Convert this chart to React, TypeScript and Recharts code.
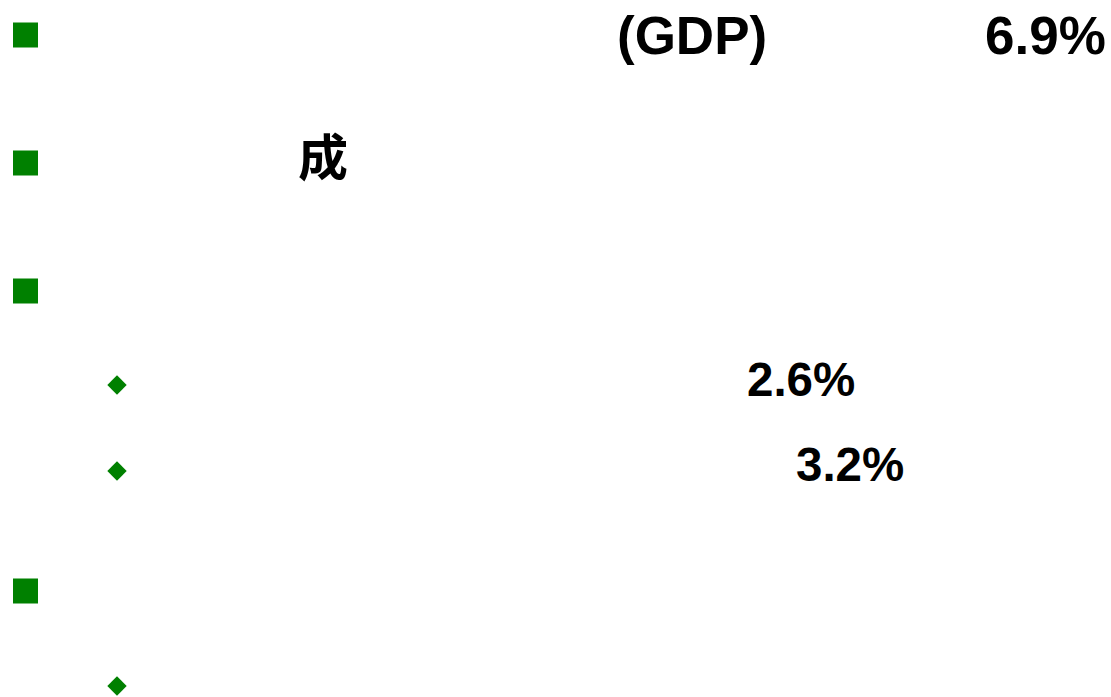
import { ScatterChart, Scatter, XAxis, YAxis } from 'recharts';

// slide is 1111 x 697, values are in slide pixels (y from top)
const levelX = [25.5, 117];
const squareBulletY = [35, 163, 291, 591];
const diamondBulletY = [385, 471, 686];

const labels = ['(GDP)', '6.9%', '成', '2.6%', '3.2%'];
const labelX = [617, 985, 298, 747, 796];
const labelY = [54, 54, 176, 396, 481];
const labelSize = [53, 53, 50, 47.5, 47.5];

const GREEN = '#008000';

const squares = squareBulletY.map((y) => ({ x: levelX[0], y }));
const diamonds = diamondBulletY.map((y) => ({ x: levelX[1], y }));
const texts = labels.map((label, i) => ({ x: labelX[i], y: labelY[i], label, size: labelSize[i] }));

const SquareBullet = (props: any) => {
    const { cx, cy } = props;
    return <rect x={cx - 12.5} y={cy - 12.5} width={25} height={25} fill={GREEN} />;
};

const DiamondBullet = (props: any) => {
    const { cx, cy } = props;
    const r = 9.7;
    return <polygon points={`${cx},${cy - r} ${cx + r},${cy} ${cx},${cy + r} ${cx - r},${cy}`} fill={GREEN} />;
};

const TextMark = (props: any) => {
    const { cx, cy, payload } = props;
    const cjk = /[\u4e00-\u9fff]/.test(payload.label);
    return (
        <text
            x={cx}
            y={cy}
            textAnchor="start"
            fontSize={payload.size}
            fontWeight="bold"
            fontFamily={cjk ? '"Noto Sans CJK SC", sans-serif' : '"Liberation Sans", Arial, sans-serif'}
            fill="#000"
        >
            {payload.label}
        </text>
    );
};

export default function App() {
    return (
        <div style={{ position: 'absolute', left: 0, top: 0, background: '#fff' }}>
            <ScatterChart width={1111} height={697} margin={{ top: 0, right: 0, bottom: 0, left: 0 }}>
                <XAxis type="number" dataKey="x" domain={[0, 1111]} hide />
                <YAxis type="number" dataKey="y" domain={[0, 697]} reversed hide />
                <Scatter data={squares} shape={SquareBullet} isAnimationActive={false} />
                <Scatter data={diamonds} shape={DiamondBullet} isAnimationActive={false} />
                <Scatter data={texts} shape={TextMark} isAnimationActive={false} />
            </ScatterChart>
        </div>
    );
}
